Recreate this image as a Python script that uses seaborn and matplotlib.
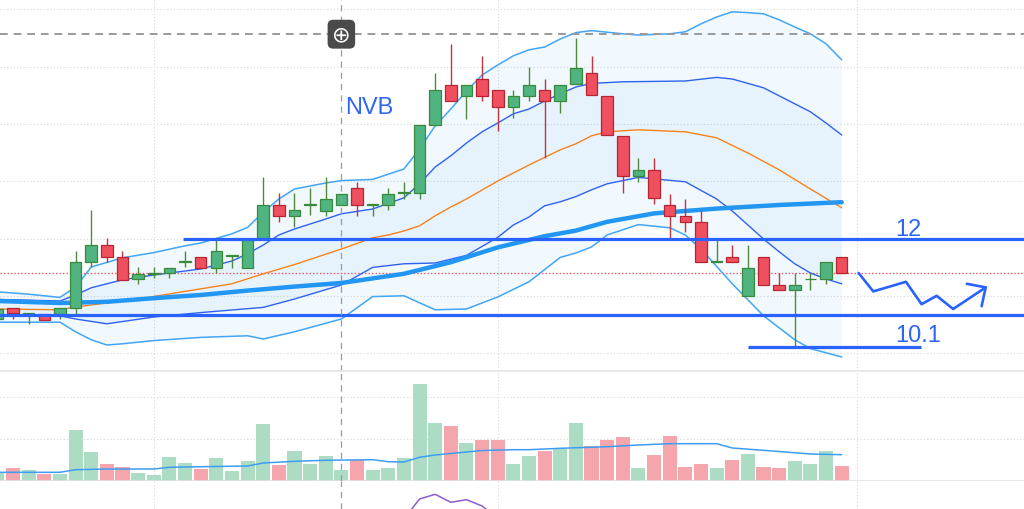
import numpy as np
import pandas as pd
import seaborn as sns
import matplotlib.pyplot as plt

# candles, left to right (index 0 is cut by the left edge)
opens = [10.00, 10.27, 10.12, 10.13, 10.13, 10.27, 11.42, 11.84, 11.56, 11.00,
         11.12, 11.14, 11.42, 11.56, 11.28, 11.57, 11.28, 12.00, 12.85, 12.57,
         12.85, 12.71, 12.85, 13.28, 12.85, 12.85, 13.16, 13.15, 14.86, 15.85,
         15.58, 16.00, 15.72, 15.29, 15.58, 15.72, 15.46, 15.88, 16.15, 15.57,
         14.57, 13.58, 13.72, 12.85, 12.57, 12.43, 11.42, 11.56, 10.57, 11.56,
         10.85, 10.72, 10.99, 11.00, 11.56]
highs = [10.30, 10.28, 10.15, 10.13, 10.27, 11.71, 12.73, 12.02, 11.71, 11.29,
         11.29, 11.28, 11.71, 11.56, 12.02, 11.58, 12.00, 13.56, 13.15, 13.15,
         13.28, 13.56, 13.13, 13.42, 12.86, 13.28, 13.42, 14.85, 16.15, 16.88,
         15.85, 16.57, 15.72, 15.73, 16.29, 16.00, 15.85, 17.02, 16.58, 15.57,
         14.57, 14.02, 14.02, 13.13, 13.00, 12.71, 12.00, 11.85, 11.85, 11.56,
         11.15, 11.15, 11.15, 11.42, 11.56]
lows = [9.98, 10.00, 9.88, 9.98, 10.00, 10.13, 11.29, 11.43, 10.98, 10.88,
        11.02, 11.02, 11.29, 11.28, 11.15, 11.28, 11.28, 12.00, 12.43, 12.30,
        12.60, 12.58, 12.85, 12.58, 12.58, 12.72, 13.00, 13.00, 14.86, 15.46,
        15.00, 15.46, 14.71, 15.02, 15.45, 14.02, 15.14, 15.88, 15.59, 14.60,
        13.15, 13.43, 12.88, 12.02, 12.17, 11.43, 11.42, 11.42, 10.57, 10.86,
        10.72, 9.31, 10.73, 10.87, 11.14]
closes = [10.26, 10.14, 10.15, 9.98, 10.27, 11.42, 11.84, 11.56, 10.98, 11.13,
          11.14, 11.28, 11.43, 11.28, 11.70, 11.58, 12.00, 12.85, 12.57, 12.72,
          12.86, 12.99, 13.13, 12.85, 12.86, 13.13, 13.17, 14.85, 15.72, 15.46,
          15.85, 15.58, 15.29, 15.58, 15.85, 15.46, 15.85, 16.28, 15.59, 14.60,
          13.58, 13.72, 13.02, 12.57, 12.43, 11.43, 11.45, 11.42, 11.28, 10.86,
          10.72, 10.85, 11.00, 11.42, 11.14]
volumes = [0.93, 1.27, 1.13, 0.73, 0.73, 5.07, 2.93, 1.67, 1.40, 0.83,
           0.60, 2.37, 1.77, 1.23, 2.27, 0.97, 2.00, 5.67, 1.63, 3.03,
           1.70, 2.47, 1.07, 2.10, 1.07, 1.27, 2.27, 9.70, 5.77, 5.53,
           3.80, 4.07, 4.07, 1.70, 2.47, 3.03, 3.27, 5.77, 3.50, 4.10,
           4.37, 1.33, 2.57, 4.53, 1.43, 1.70, 1.33, 2.10, 2.67, 1.43,
           1.27, 2.00, 1.70, 3.03, 1.53]

# volume moving average
vma_idx = [0, 4, 5, 7, 10, 11, 13, 16, 17, 19, 21, 24, 25, 26, 27, 28, 31, 33,
           34, 36, 39, 41, 43, 46, 47, 50, 52, 54]
vma = [0.87, 0.87, 1.13, 1.2, 1.2, 1.37, 1.43, 1.5, 1.8, 1.97, 2.07, 2.13, 1.93,
       1.9, 2.37, 2.6, 3.05, 3.13, 3.13, 3.27, 3.43, 3.6, 3.73, 3.73, 3.3, 2.95,
       2.7, 2.63]

# bollinger lines (outer = 2 sd, inner = 1 sd, mid = orange)
bbu2_idx = [0, 2, 4, 5, 6, 8, 10, 12, 13, 15, 16, 17, 18, 19, 21, 22, 24, 26, 27,
            28, 29, 30, 31, 32, 33, 34, 35, 36, 37, 38, 40, 41, 43, 44, 45, 46,
            47, 48, 49, 50, 51, 52, 53, 54]
bbu2 = [10.68, 10.62, 10.54, 10.80, 11.30, 11.53, 11.66, 11.83, 11.90, 12.13,
        12.29, 12.67, 13.00, 13.25, 13.40, 13.46, 13.49, 13.75, 14.25, 14.83,
        15.25, 15.70, 16.10, 16.35, 16.58, 16.73, 16.80, 17.00, 17.16, 17.21,
        17.13, 17.10, 17.13, 17.18, 17.38, 17.55, 17.68, 17.66, 17.63, 17.48,
        17.30, 17.13, 16.88, 16.48]
bbu1_idx = [0, 4, 5, 6, 8, 10, 13, 15, 16, 17, 18, 19, 21, 22, 24, 26, 27, 28,
            29, 30, 31, 32, 33, 34, 35, 36, 37, 38, 40, 44, 46, 47, 49, 51, 52,
            53, 54]
bbu1 = [10.49, 10.45, 10.60, 10.78, 10.98, 11.10, 11.25, 11.45, 11.63, 11.85,
        12.10, 12.25, 12.50, 12.63, 12.75, 13.03, 13.38, 13.80, 14.08, 14.40,
        14.68, 14.90, 15.13, 15.25, 15.45, 15.63, 15.80, 15.89, 15.93, 15.95,
        16.04, 16.00, 15.78, 15.38, 15.18, 14.90, 14.60]
mid_idx = [0, 4, 5, 7, 9, 12, 15, 17, 19, 22, 24, 25, 26, 27, 28, 29, 30, 32, 34,
           36, 37, 38, 39, 41, 44, 46, 48, 50, 52, 54]
mid = [10.25, 10.23, 10.30, 10.40, 10.50, 10.69, 10.88, 11.13, 11.36, 11.75,
       12.03, 12.10, 12.20, 12.33, 12.58, 12.80, 13.00, 13.45, 13.85, 14.23,
       14.38, 14.58, 14.68, 14.73, 14.68, 14.53, 14.15, 13.73, 13.25, 12.78]
bbl1_idx = [0, 4, 5, 7, 10, 13, 17, 19, 22, 24, 26, 28, 30, 32, 33, 34, 35, 36,
            37, 38, 39, 41, 44, 46, 47, 49, 50, 51, 52, 53, 54]
bbl1 = [10.10, 10.08, 10.00, 9.88, 10.05, 10.16, 10.29, 10.50, 10.85, 11.29,
        11.38, 11.40, 11.59, 12.04, 12.35, 12.55, 12.83, 12.93, 13.06, 13.23,
        13.38, 13.54, 13.43, 13.00, 12.70, 12.00, 11.68, 11.38, 11.15, 11.00,
        10.88]
bbl2_idx = [0, 4, 5, 6, 7, 8, 10, 13, 16, 17, 19, 22, 24, 26, 28, 30, 32, 34, 36,
            37, 38, 39, 41, 43, 44, 45, 47, 49, 51, 52, 54]
bbl2 = [9.92, 9.92, 9.68, 9.48, 9.35, 9.38, 9.46, 9.54, 9.58, 9.50, 9.68, 10.00,
        10.56, 10.58, 10.23, 10.25, 10.55, 10.93, 11.54, 11.65, 11.80, 12.10,
        12.36, 12.28, 12.10, 11.75, 10.88, 10.08, 9.48, 9.26, 9.05]

# slow moving average (thick line)
ma_idx = [0, 4, 7, 10, 13, 16, 19, 22, 26, 29, 32, 35, 37, 39, 42, 46, 50, 54]
ma = [10.45, 10.40, 10.43, 10.52, 10.60, 10.71, 10.81, 10.90, 11.13, 11.42,
      11.79, 12.07, 12.21, 12.43, 12.64, 12.76, 12.85, 12.92]

# oscillator pane, only its top edge shows
rsi_idx = [26, 27, 28, 29, 30, 31, 32]
rsi = [61, 71, 73.35, 69.35, 70.65, 67.5, 61]

# hand drawn levels and path
level_hi, level_hi_start = 12.0, 11.9
level_lo = 10.1
support_y, support_span = 9.3, (48.0, 59.1)
zig_x = [55.08, 56.02, 58.11, 59.11, 60.07, 61.13, 63.21]
zig_y = [11.15, 10.69, 10.93, 10.37, 10.58, 10.25, 10.79]
head_x = [62.0, 63.21, 62.95]
head_y = [10.88, 10.79, 10.32]
labels = [("12", 58.26, 12.10), ("10.1", 58.92, 9.46), ("NVB", 23.78, 15.15)]

cross_idx, cross_price = 22, 17.12
price_grid = [9.15, 10.575, 12.0, 13.45, 14.875, 16.30, 17.75]
vol_grid = [4.2, 8.4]
date_grid = [10, 32, 55]
xlim = (0.166, 65.66)

sns.set_theme(style="white")
plt.rcParams["font.family"] = ["Liberation Sans", "DejaVu Sans"]

fig = plt.figure(figsize=(10.24, 5.10), dpi=100)
ax = fig.add_axes([0, 0.2706, 1, 0.7294])
axv = fig.add_axes([0, 0.0549, 1, 0.2157])
axr = fig.add_axes([0, 0, 1, 0.0549])

idx = np.arange(len(closes))
o, h, l, c = (np.array(v) for v in (opens, highs, lows, closes))
up = c >= o

# band fills
ax.fill(np.r_[bbu2_idx, bbl2_idx[::-1]], np.r_[bbu2, bbl2[::-1]],
        color="#2196f3", alpha=0.06, lw=0, zorder=1)
ax.fill(np.r_[bbu1_idx, bbl1_idx[::-1]], np.r_[bbu1, bbl1[::-1]],
        color="#2196f3", alpha=0.05, lw=0, zorder=1)

for xs, ys, col, lw in [(bbu2_idx, bbu2, "#42a5f5", 1.1), (bbl2_idx, bbl2, "#42a5f5", 1.1),
                        (bbu1_idx, bbu1, "#2f62f0", 1.0), (bbl1_idx, bbl1, "#2f62f0", 1.0),
                        (mid_idx, mid, "#f7821b", 1.0), (ma_idx, ma, "#2196f3", 3.2)]:
    sns.lineplot(x=xs, y=ys, color=col, linewidth=lw, ax=ax, zorder=3)

ax.axhline(closes[-1], color="#f7525f", ls=(0, (1, 1.5)), lw=1.0, zorder=2)

# candles
body_lo = np.minimum(o, c)
body_h = np.maximum(np.abs(c - o), 0.02)
for mask, fill, edge, wick in [(up, "#4fb47f", "#3a8a3c", "#4f8a3c"),
                               (~up, "#ef5060", "#b8242f", "#c3343f")]:
    ax.vlines(idx[mask], l[mask], h[mask], color=wick, lw=1.0, zorder=4)
    ax.bar(idx[mask], body_h[mask], bottom=body_lo[mask], width=0.74,
           color=fill, edgecolor=edge, linewidth=0.9, zorder=5)

# drawings
blue = "#2962ff"
ax.hlines(level_hi, level_hi_start, xlim[1] + 1, color=blue, lw=2.3, zorder=6)
ax.axhline(level_lo, color=blue, lw=2.3, zorder=6)
ax.hlines(support_y, *support_span, color=blue, lw=2.3, zorder=6)
ax.plot(zig_x, zig_y, color=blue, lw=1.9, zorder=6)
ax.plot(head_x, head_y, color=blue, lw=1.9, zorder=6)
for txt, x, y in labels:
    ax.text(x, y, txt, color="#2e66f4", fontsize=17, ha="center", va="baseline", zorder=7)

# crosshair
ax.axhline(cross_price, color="#9a9a9a", ls=(0, (4, 3)), lw=1.4, zorder=6)
for a in (ax, axv, axr):
    a.axvline(cross_idx, color="#9a9a9a", ls=(0, (5, 4)), lw=0.9, zorder=6)
ax.text(cross_idx, cross_price, "\u2295", color="white", fontsize=16, family="DejaVu Sans",
        ha="center", va="center", zorder=8,
        bbox=dict(boxstyle="round,pad=0.2,rounding_size=0.25", fc="#4a4a4a", ec="none"))

# volume pane
vol_df = pd.DataFrame({"idx": idx, "volume": volumes,
                       "dir": np.where(up, "up", "down")})
sns.barplot(data=vol_df, x="idx", y="volume", hue="dir", native_scale=True,
            palette={"up": "#acdcc4", "down": "#f5a6ad"}, saturation=1,
            width=0.9, dodge=False, legend=False, errorbar=None,
            linewidth=0, ax=axv, zorder=2)
sns.lineplot(x=vma_idx, y=vma, color="#3d9df2", linewidth=1.1, ax=axv, zorder=3)

sns.lineplot(x=rsi_idx, y=rsi, color="#8a5cd6", linewidth=1.1, ax=axr)

for a, yt in [(ax, price_grid), (axv, vol_grid), (axr, [])]:
    a.set_xlim(*xlim)
    a.set_xticks(date_grid)
    a.set_yticks(yt)
    a.grid(True, color="#d8d8d8", linestyle=(0, (1, 2)), lw=0.8)
    a.set_axisbelow(True)
    a.tick_params(length=0, labelleft=False, labelbottom=False)
    a.set_xlabel("")
    a.set_ylabel("")
    for s in a.spines.values():
        s.set_visible(False)
ax.set_ylim(8.70, 18.0)
axv.set_ylim(0, 11.0)
axr.set_ylim(66, 80)
for s in ("top", "bottom"):
    axv.spines[s].set_visible(True)
    axv.spines[s].set_color("#e3e3e3")
    axv.spines[s].set_linewidth(1.2)

fig.savefig("out.png", dpi=100)
